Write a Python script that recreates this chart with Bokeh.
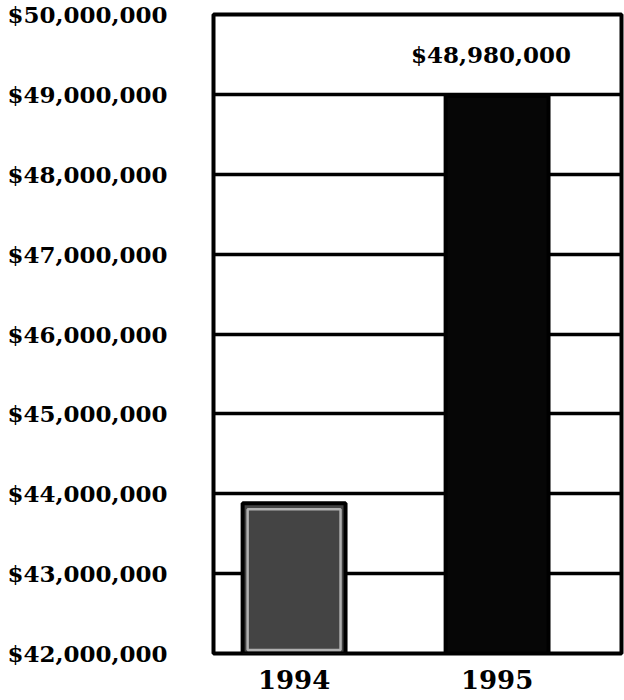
from bokeh.plotting import figure
from bokeh.models import Range1d, FixedTicker, ColumnDataSource
from bokeh.embed import file_html
from bokeh.resources import INLINE
from bokeh.core.properties import value

# ---- data ----
years = ["1994", "1995"]
amounts = [43_880_000, 48_980_000]
bar_colors = ["#444444", "#060606"]
tick_values = [42_000_000, 43_000_000, 44_000_000, 45_000_000, 46_000_000,
               47_000_000, 48_000_000, 49_000_000, 50_000_000]
tick_labels = ["$42,000,000", "$43,000,000", "$44,000,000", "$45,000,000",
               "$46,000,000", "$47,000,000", "$48,000,000", "$49,000,000",
               "$50,000,000"]
annotation_text = "$48,980,000"

FONT = "DejaVu Serif"
idx = list(range(len(years)))
base = tick_values[0]
bar_w = 0.507

src = ColumnDataSource(dict(x=idx, top=amounts, fill=bar_colors))

p = figure(width=624, height=700, output_backend="svg", toolbar_location=None,
           x_range=Range1d(-0.397, 1.613),
           y_range=Range1d(tick_values[0], tick_values[-1]),
           min_border_left=213, min_border_right=3,
           min_border_top=14, min_border_bottom=47)

p.background_fill_color = "white"
p.border_fill_color = "white"
p.outline_line_color = "black"
p.outline_line_width = 4
p.outline_line_alpha = 1

# grid
p.xgrid.visible = False
p.ygrid.ticker = FixedTicker(ticks=tick_values)
p.ygrid.grid_line_color = "black"
p.ygrid.grid_line_width = 3.5
p.ygrid.grid_line_alpha = 1

# bars
p.vbar(x="x", top="top", bottom=base, width=bar_w, fill_color="fill",
       line_color="black", line_width=4, source=src)

# light inner rim on the grey bar (scan texture)
px_per_unit_y = 639 / (tick_values[-1] - tick_values[0])
inset = 6 / px_per_unit_y
rim = ColumnDataSource(dict(x=[idx[0]], top=[amounts[0] - inset]))
p.vbar(x="x", top="top", bottom=base + inset * 0.6, width=bar_w - 10 / 203,
       fill_color=None, line_color="#b0b0b0", line_width=2.5, source=rim)

# value annotation
p.text(x=[idx[1]], y=[(tick_values[-2] + tick_values[-1]) / 2],
       text=[annotation_text], text_font=value(FONT), text_font_style="bold",
       text_font_size="23px", text_align="center", text_baseline="middle",
       text_color="black", x_offset=-6)

# y axis
ya = p.yaxis[0]
ya.ticker = FixedTicker(ticks=tick_values)
ya.major_label_overrides = {v: s for v, s in zip(tick_values, tick_labels)}
ya.axis_line_color = None
ya.major_tick_line_color = None
ya.minor_tick_line_color = None
ya.major_label_standoff = 40
ya.major_label_text_font = FONT
ya.major_label_text_font_style = "bold"
ya.major_label_text_font_size = "23px"
ya.major_label_text_color = "black"

# x axis
xa = p.xaxis[0]
xa.ticker = FixedTicker(ticks=idx)
xa.major_label_overrides = {i: y for i, y in zip(idx, years)}
xa.axis_line_color = None
xa.major_tick_line_color = None
xa.minor_tick_line_color = None
xa.major_label_standoff = 10
xa.major_label_text_font = FONT
xa.major_label_text_font_style = "bold"
xa.major_label_text_font_size = "26px"
xa.major_label_text_color = "black"

open("out.html", "w").write(file_html(p, INLINE))
